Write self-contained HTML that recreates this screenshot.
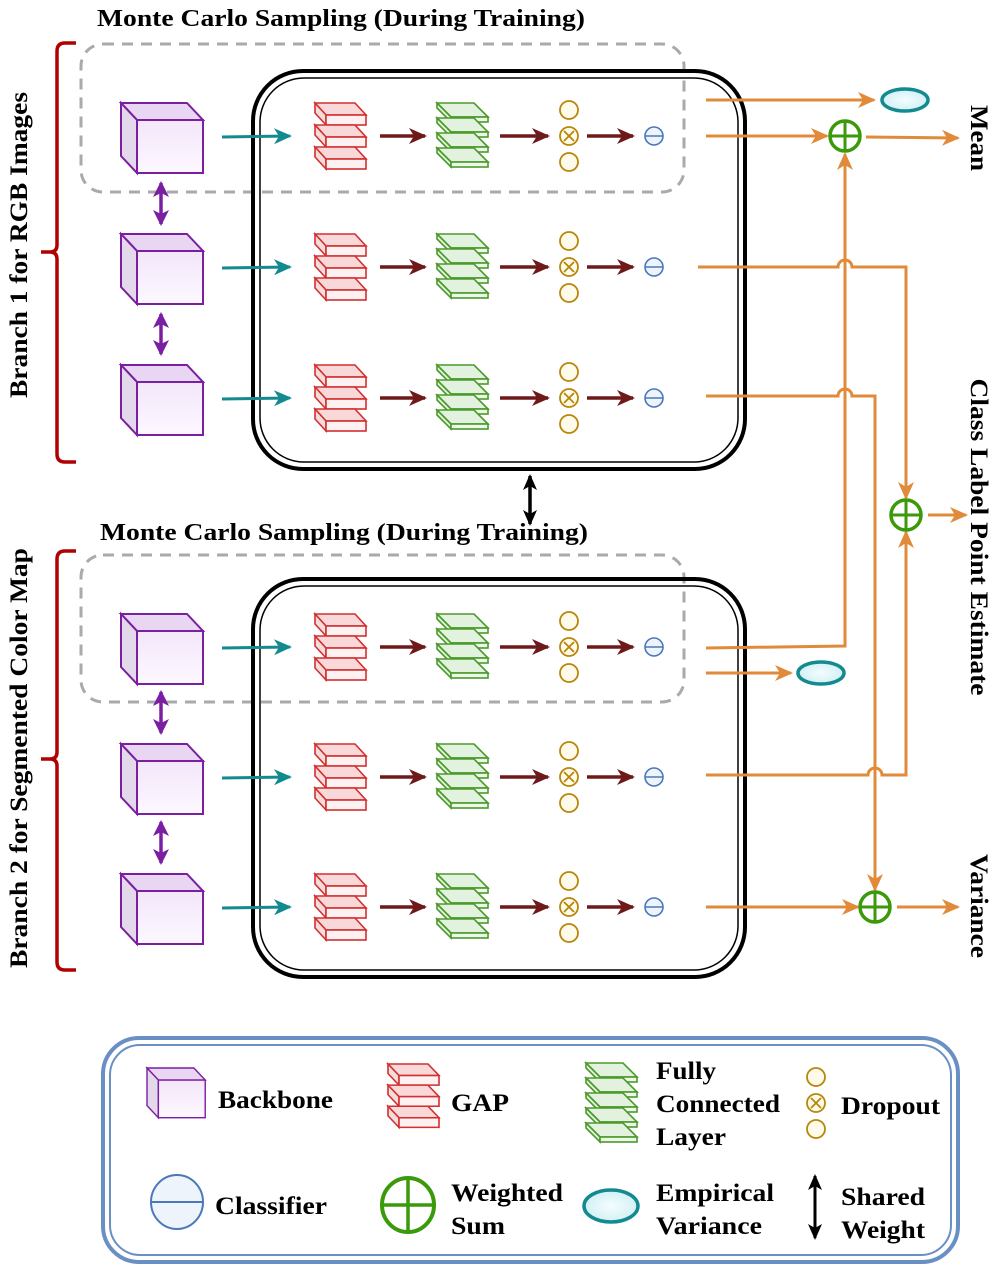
<!DOCTYPE html>
<html><head><meta charset="utf-8"><style>
html,body{margin:0;padding:0;background:#fff}
svg{display:block}
text{font-family:"Liberation Serif",serif;font-weight:bold;fill:#000}
</style></head><body>
<svg width="996" height="1268" viewBox="0 0 996 1268" xmlns="http://www.w3.org/2000/svg">
<defs>
<linearGradient id="pg" x1="0" y1="0" x2="0" y2="1"><stop offset="0" stop-color="#f3e6fa"/><stop offset="1" stop-color="#fdf8ff"/></linearGradient>
<marker id="mt" markerWidth="18" markerHeight="16" refX="16" refY="8" orient="auto" markerUnits="userSpaceOnUse"><path d="M0,0 L18,8 L0,16 L5,8z" fill="#138a8f"/></marker>
<marker id="mr" markerWidth="18" markerHeight="16" refX="16" refY="8" orient="auto" markerUnits="userSpaceOnUse"><path d="M0,0 L18,8 L0,16 L5,8z" fill="#6e1a1a"/></marker>
<marker id="mo" markerWidth="18" markerHeight="16" refX="16" refY="8" orient="auto" markerUnits="userSpaceOnUse"><path d="M0,0 L18,8 L0,16 L5,8z" fill="#e08a3a"/></marker>
<marker id="mp" markerWidth="16" markerHeight="16" refX="14" refY="8" orient="auto-start-reverse" markerUnits="userSpaceOnUse"><path d="M0,0 L16,8 L0,16 L4,8z" fill="#7b1fa2"/></marker>
<marker id="mk" markerWidth="16" markerHeight="14" refX="14" refY="7" orient="auto-start-reverse" markerUnits="userSpaceOnUse"><path d="M0,0 L16,7 L0,14 L4,7z" fill="#000"/></marker>
<g id="cube">
 <polygon points="121,103 187,103 203,120 137,120" fill="#e8d6f2" stroke="#7b1fa2" stroke-width="2"/>
 <polygon points="121,103 137,120 137,173 121,156" fill="#e4d9ea" stroke="#7b1fa2" stroke-width="2"/>
 <rect x="137" y="120" width="66" height="53" fill="url(#pg)" stroke="#7b1fa2" stroke-width="2"/>
</g>
<g id="slab">
 <polygon points="315,103 355,103 366,115 326,115" fill="#f8d8d8" stroke="#d32f2f" stroke-width="1.6"/>
 <polygon points="315,103 326,115 326,125 315,113" fill="#f2dcdc" stroke="#d32f2f" stroke-width="1.6"/>
 <rect x="326" y="115" width="40" height="10" fill="#fdf1f1" stroke="#d32f2f" stroke-width="1.6"/>
</g>
<g id="gap"><use href="#slab"/><use href="#slab" y="22"/><use href="#slab" y="44"/></g>
<g id="fslab">
 <polygon points="437,103 474,103 488,117 451,117" fill="#e3f2de" stroke="#4a9a2a" stroke-width="1.6"/>
 <polygon points="437,103 451,117 451,122 437,108" fill="#e3f2de" stroke="#4a9a2a" stroke-width="1.6"/>
 <rect x="451" y="117" width="37" height="5" fill="#eef8ea" stroke="#4a9a2a" stroke-width="1.6"/>
</g>
<g id="fc"><use href="#fslab"/><use href="#fslab" y="15"/><use href="#fslab" y="30"/><use href="#fslab" y="45"/></g>
<g id="drop" fill="#fffbea" stroke="#b8860b" stroke-width="1.8">
 <circle cx="0" cy="-26" r="9"/><circle cx="0" cy="0" r="9"/><circle cx="0" cy="26" r="9"/>
 <path d="M-5,-5 L5,5 M5,-5 L-5,5"/>
</g>
<g id="row">
 <use href="#cube"/>
 <line x1="222" y1="137" x2="290" y2="136" stroke="#138a8f" stroke-width="3" marker-end="url(#mt)"/>
 <use href="#gap"/>
 <line x1="380" y1="136" x2="425" y2="136" stroke="#6e1a1a" stroke-width="3.5" marker-end="url(#mr)"/>
 <use href="#fc"/>
 <line x1="500" y1="136" x2="548" y2="136" stroke="#6e1a1a" stroke-width="3.5" marker-end="url(#mr)"/>
 <use href="#drop" x="569" y="136"/>
 <line x1="587" y1="136" x2="633" y2="136" stroke="#6e1a1a" stroke-width="3.5" marker-end="url(#mr)"/>
 <circle cx="654" cy="136" r="9" fill="#eef4fc" stroke="#4a78b8" stroke-width="1.6"/>
 <line x1="645" y1="136" x2="663" y2="136" stroke="#4a78b8" stroke-width="1.6"/>
</g>
<g id="wsum"><circle r="15" fill="#fff" stroke="#3a9a0a" stroke-width="3.5"/><path d="M-15,0 H15 M0,-15 V15" stroke="#3a9a0a" stroke-width="3"/></g>
<radialGradient id="tg"><stop offset="0" stop-color="#f4fdff"/><stop offset="1" stop-color="#d2f0f4"/></radialGradient>
<g id="ev"><ellipse rx="23" ry="11" fill="url(#tg)" stroke="#138a8f" stroke-width="3.5"/></g>
</defs>

<text x="97" y="26" font-size="24" textLength="488" lengthAdjust="spacingAndGlyphs">Monte Carlo Sampling (During Training)</text>
<text x="100" y="540" font-size="24" textLength="488" lengthAdjust="spacingAndGlyphs">Monte Carlo Sampling (During Training)</text>

<rect x="81" y="44" width="603" height="148" rx="22" fill="none" stroke="#aaa" stroke-width="3" stroke-dasharray="11,8"/>
<rect x="81" y="555" width="603" height="147" rx="22" fill="none" stroke="#aaa" stroke-width="3" stroke-dasharray="11,8"/>

<rect x="253" y="71" width="492" height="398" rx="50" fill="none" stroke="#000" stroke-width="4"/>
<rect x="260" y="78" width="478" height="384" rx="44" fill="none" stroke="#000" stroke-width="1.5"/>
<rect x="253" y="579" width="492" height="398" rx="50" fill="none" stroke="#000" stroke-width="4"/>
<rect x="260" y="586" width="478" height="384" rx="44" fill="none" stroke="#000" stroke-width="1.5"/>

<use href="#row"/>
<use href="#row" y="131"/>
<use href="#row" y="262"/>
<use href="#row" y="511"/>
<use href="#row" y="641"/>
<use href="#row" y="771"/>

<g stroke="#7b1fa2" stroke-width="3.5" marker-start="url(#mp)" marker-end="url(#mp)">
<line x1="161" y1="183" x2="161" y2="224"/>
<line x1="161" y1="314" x2="161" y2="354"/>
<line x1="161" y1="692" x2="161" y2="733"/>
<line x1="161" y1="822" x2="161" y2="863"/>
</g>
<line x1="530" y1="476" x2="530" y2="524" stroke="#000" stroke-width="3.5" marker-start="url(#mk)" marker-end="url(#mk)"/>

<g fill="none" stroke="#b00000" stroke-width="3.5">
<path d="M76,43 H65 Q57,43 57,51 V245 Q57,252 50,252 H41 M50,252 Q57,252 57,259 V454 Q57,462 65,462 H76"/>
<path d="M76,551 H65 Q57,551 57,559 V752 Q57,759 50,759 H41 M50,759 Q57,759 57,766 V962 Q57,970 65,970 H76"/>
</g>
<text transform="translate(27,245) rotate(-90)" font-size="25" text-anchor="middle" textLength="306" lengthAdjust="spacingAndGlyphs">Branch 1 for RGB Images</text>
<text transform="translate(27,758) rotate(-90)" font-size="25" text-anchor="middle" textLength="420" lengthAdjust="spacingAndGlyphs">Branch 2 for Segmented Color Map</text>

<g fill="none" stroke="#e08a3a" stroke-width="3">
<line x1="706" y1="100" x2="874" y2="100" marker-end="url(#mo)"/>
<line x1="706" y1="136" x2="827" y2="136" marker-end="url(#mo)"/>
<line x1="866" y1="137" x2="958" y2="138" marker-end="url(#mo)"/>
<path d="M698,267 H838 A7,7 0 0 1 852,267 H906 V498" marker-end="url(#mo)"/>
<path d="M706,396 H838 A7,7 0 0 1 852,396 H875 V890" marker-end="url(#mo)"/>
<path d="M706,648 L845,646 V154" marker-end="url(#mo)"/>
<line x1="706" y1="673" x2="791" y2="673" marker-end="url(#mo)"/>
<path d="M706,775 H868 A7,7 0 0 1 882,775 H906 V532" marker-end="url(#mo)"/>
<line x1="706" y1="907" x2="858" y2="907" marker-end="url(#mo)"/>
<line x1="897" y1="907" x2="958" y2="907" marker-end="url(#mo)"/>
<line x1="928" y1="515" x2="966" y2="515" marker-end="url(#mo)"/>
</g>
<use href="#wsum" x="845" y="136"/>
<use href="#wsum" x="906" y="515"/>
<use href="#wsum" x="875" y="907"/>
<use href="#ev" x="905" y="100"/>
<use href="#ev" x="821" y="673"/>

<text transform="translate(971,138) rotate(90)" font-size="25" text-anchor="middle" textLength="66" lengthAdjust="spacingAndGlyphs">Mean</text>
<text transform="translate(971,537) rotate(90)" font-size="25" text-anchor="middle" textLength="317" lengthAdjust="spacingAndGlyphs">Class Label Point Estimate</text>
<text transform="translate(971,906) rotate(90)" font-size="25" text-anchor="middle" textLength="104" lengthAdjust="spacingAndGlyphs">Variance</text>

<rect x="103" y="1038" width="855" height="224" rx="36" fill="none" stroke="#6a8fc4" stroke-width="4"/>
<rect x="110" y="1045" width="841" height="210" rx="30" fill="none" stroke="#6a8fc4" stroke-width="2"/>
<g transform="translate(147,1068) scale(0.71) translate(-121,-103)"><use href="#cube"/></g>
<text x="218" y="1108" font-size="25" textLength="115" lengthAdjust="spacingAndGlyphs">Backbone</text>
<g transform="translate(388,1064) scale(1,0.96) translate(-315,-103)"><use href="#gap"/></g>
<text x="451" y="1111" font-size="25" textLength="58" lengthAdjust="spacingAndGlyphs">GAP</text>
<g transform="translate(586,1063) translate(-437,-103)"><use href="#fc"/><use href="#fslab" y="60"/></g>
<text x="656" y="1079" font-size="25" textLength="60" lengthAdjust="spacingAndGlyphs">Fully</text>
<text x="656" y="1112" font-size="25" textLength="124" lengthAdjust="spacingAndGlyphs">Connected</text>
<text x="656" y="1145" font-size="25" textLength="70" lengthAdjust="spacingAndGlyphs">Layer</text>
<use href="#drop" x="816" y="1103"/>
<text x="841" y="1114" font-size="25" textLength="99" lengthAdjust="spacingAndGlyphs">Dropout</text>
<ellipse cx="177" cy="1202" rx="26" ry="27" fill="#eef4fc" stroke="#4a78b8" stroke-width="2"/>
<line x1="151" y1="1202" x2="203" y2="1202" stroke="#4a78b8" stroke-width="2"/>
<text x="215" y="1214" font-size="25" textLength="112" lengthAdjust="spacingAndGlyphs">Classifier</text>
<ellipse cx="408" cy="1205" rx="26" ry="27" fill="#fff" stroke="#3a9a0a" stroke-width="4"/>
<path d="M382,1205 H434 M408,1178 V1232" stroke="#3a9a0a" stroke-width="3.5"/>
<text x="451" y="1201" font-size="25" textLength="112" lengthAdjust="spacingAndGlyphs">Weighted</text>
<text x="451" y="1234" font-size="25" textLength="54" lengthAdjust="spacingAndGlyphs">Sum</text>
<ellipse cx="611" cy="1206" rx="27" ry="16" fill="url(#tg)" stroke="#138a8f" stroke-width="3.5"/>
<text x="656" y="1201" font-size="25" textLength="118" lengthAdjust="spacingAndGlyphs">Empirical</text>
<text x="656" y="1234" font-size="25" textLength="106" lengthAdjust="spacingAndGlyphs">Variance</text>
<line x1="815" y1="1176" x2="815" y2="1238" stroke="#000" stroke-width="3" marker-start="url(#mk)" marker-end="url(#mk)"/>
<text x="841" y="1205" font-size="25" textLength="84" lengthAdjust="spacingAndGlyphs">Shared</text>
<text x="841" y="1238" font-size="25" textLength="84" lengthAdjust="spacingAndGlyphs">Weight</text>
</svg>
</body></html>
